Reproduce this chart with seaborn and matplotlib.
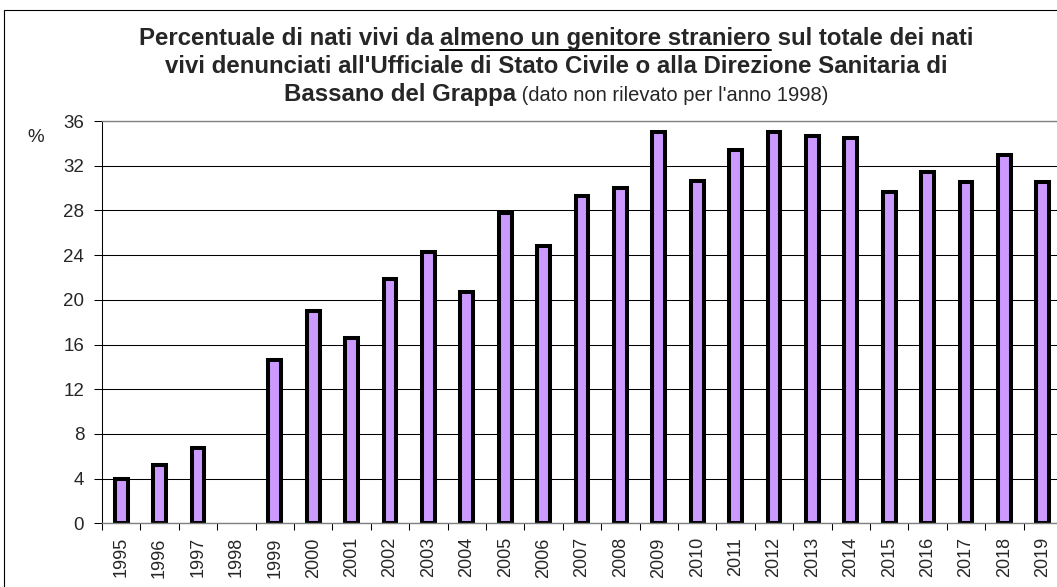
import numpy as np
import pandas as pd
import matplotlib
matplotlib.use("Agg")
import matplotlib.pyplot as plt
import seaborn as sns
from matplotlib.lines import Line2D
from matplotlib.patches import Rectangle

anni = ["1995", "1996", "1997", "1998", "1999", "2000", "2001", "2002", "2003",
        "2004", "2005", "2006", "2007", "2008", "2009", "2010", "2011", "2012",
        "2013", "2014", "2015", "2016", "2017", "2018", "2019"]
percentuale = [3.95, 5.2, 6.7, np.nan, 14.6, 19.0, 16.6, 21.9, 24.3,
               20.7, 27.8, 24.8, 29.3, 30.0, 35.0, 30.6, 33.4, 35.0,
               34.7, 34.5, 29.65, 31.45, 30.55, 33.0, 30.5]
y_ticks = [0, 4, 8, 12, 16, 20, 24, 28, 32, 36]

titolo = [
    [("Percentuale di nati vivi da ", "bold", False),
     ("almeno un genitore straniero", "bold", True),
     (" sul totale dei nati", "bold", False)],
    [("vivi denunciati all'Ufficiale di Stato Civile o alla Direzione Sanitaria di", "bold", False)],
    [("Bassano del Grappa", "bold", False),
     (" (dato non rilevato per l'anno 1998)", "normal", False)],
]

sns.set_style("white")
plt.rcParams["font.family"] = ["Liberation Sans", "DejaVu Sans"]

W, H = 1057, 587
fig = plt.figure(figsize=(W / 100, H / 100), dpi=100)
fig.patch.set_facecolor("white")

# plot area (extends past the right edge, as in the reference)
ax = fig.add_axes([102 / W, 1 - 523.3 / H, 960 / W, 402.3 / H])
df = pd.DataFrame({"anno": anni, "perc": percentuale})
sns.barplot(data=df, x="anno", y="perc", order=anni, color="#CC99FF",
            saturation=1, edgecolor="black", linewidth=2.9, width=0.33,
            errorbar=None, ax=ax)

ax.set_xlim(-0.5, len(anni) - 0.5)
ax.set_ylim(0, 36)
ax.set_yticks(y_ticks)
ax.set_axisbelow(True)
ax.yaxis.grid(True, color="black", linewidth=0.75)
ax.xaxis.grid(False)
ax.set_xlabel("")
ax.set_ylabel("")

ax.tick_params(axis="y", direction="out", length=5.8, width=0.75, color="black",
               labelsize=13.5, pad=7, left=True)
ax.tick_params(axis="x", which="major", length=0, labelsize=13, pad=10,
               labelrotation=90)
ax.set_xticks(np.arange(-0.5, len(anni)), minor=True)
ax.tick_params(axis="x", which="minor", direction="out", length=5, width=0.75,
               color="black", bottom=True)

for side in ["top", "bottom"]:
    ax.spines[side].set_color("#808080")
    ax.spines[side].set_linewidth(1.0)
ax.spines["left"].set_color("black")
ax.spines["left"].set_linewidth(0.75)
ax.spines["right"].set_visible(False)

fig.text(35.5 / W, 1 - 137.5 / H, "%", fontsize=13.5, ha="center", va="center")

# title built piece by piece so part of it can be underlined
renderer = fig.canvas.get_renderer()
baselines = [45, 73, 101]
centro = 556
for riga, base in zip(titolo, baselines):
    pezzi = []
    for testo, peso, sotto in riga:
        size = 17.3 if peso == "bold" else 14.5
        t = fig.text(0, 1 - base / H, testo, fontsize=size, fontweight=peso,
                     ha="left", va="baseline")
        pezzi.append((t, sotto))
    larghezze = [t.get_window_extent(renderer).width for t, _ in pezzi]
    x = centro - sum(larghezze) / 2
    for (t, sotto), w in zip(pezzi, larghezze):
        t.set_x(x / W)
        if sotto:
            y_line = 1 - (base + 5) / H
            fig.add_artist(Line2D([x / W, (x + w) / W], [y_line, y_line],
                                  color="black", linewidth=1.4))
        x += w

# frame around the chart area
fig.add_artist(Rectangle((4 / W, -0.1), 1.2, (1 - 10 / H) + 0.1,
                         transform=fig.transFigure, fill=False,
                         edgecolor="black", linewidth=0.8))

plt.savefig("out.png", dpi=100)
